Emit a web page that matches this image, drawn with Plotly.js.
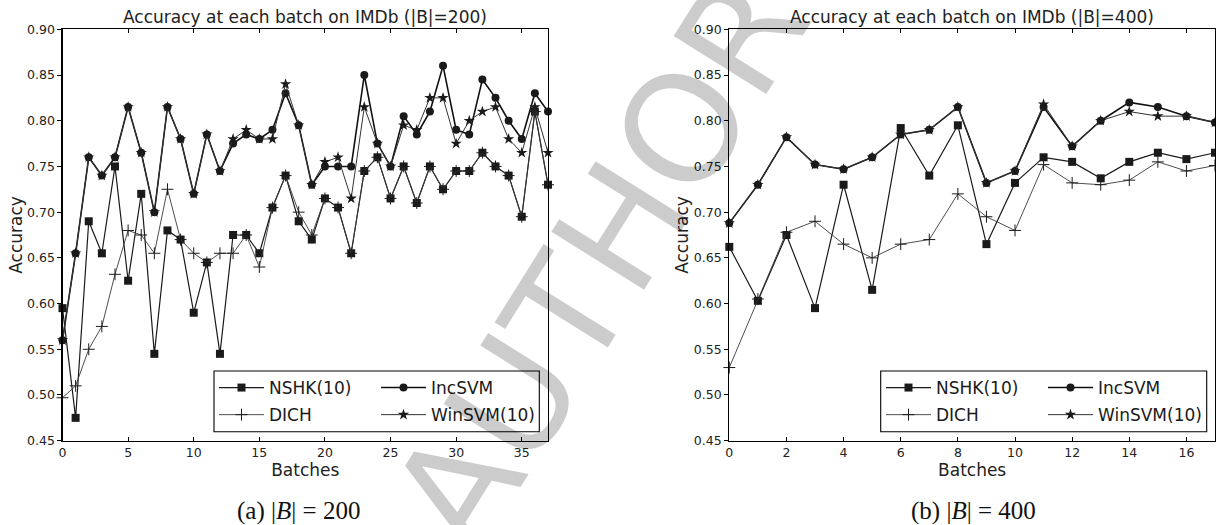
<!DOCTYPE html>
<html>
<head>
<meta charset="utf-8">
<script src="https://cdn.plot.ly/plotly-3.0.1.min.js"></script>
<style>
  html, body { margin: 0; padding: 0; background: #ffffff; }
  #chart { width: 1216px; height: 525px; }
</style>
</head>
<body>
<div id="chart"></div>
<script>
// Accuracy per batch on IMDb, batch size 200
const batches200 = [0,1,2,3,4,5,6,7,8,9,10,11,12,13,14,15,16,17,18,19,20,21,22,23,24,25,26,27,28,29,30,31,32,33,34,35,36,37];
const nshk200 = [0.595,0.475,0.69,0.655,0.75,0.625,0.72,0.545,0.68,0.67,0.59,0.645,0.545,0.675,0.675,0.655,0.705,0.74,0.69,0.67,0.715,0.705,0.655,0.745,0.76,0.715,0.75,0.71,0.75,0.725,0.745,0.745,0.765,0.75,0.74,0.695,0.81,0.73];
const incsvm200 = [0.56,0.655,0.76,0.74,0.76,0.815,0.765,0.70,0.815,0.78,0.72,0.785,0.745,0.775,0.785,0.78,0.79,0.83,0.795,0.73,0.75,0.75,0.75,0.85,0.775,0.75,0.805,0.785,0.81,0.86,0.79,0.785,0.845,0.825,0.80,0.78,0.83,0.81];
const dich200 = [0.497,0.51,0.55,0.575,0.632,0.68,0.675,0.655,0.725,0.67,0.655,0.645,0.655,0.655,0.675,0.64,0.705,0.74,0.70,0.675,0.715,0.705,0.655,0.745,0.76,0.715,0.75,0.71,0.75,0.725,0.745,0.745,0.765,0.75,0.74,0.695,0.81,0.73];
const winsvm200 = [0.56,0.655,0.76,0.74,0.76,0.815,0.765,0.70,0.815,0.78,0.72,0.785,0.745,0.78,0.79,0.78,0.78,0.84,0.795,0.73,0.755,0.76,0.715,0.815,0.775,0.75,0.795,0.79,0.825,0.825,0.775,0.80,0.81,0.815,0.78,0.765,0.815,0.765];

// Accuracy per batch on IMDb, batch size 400
const batches400 = [0,1,2,3,4,5,6,7,8,9,10,11,12,13,14,15,16,17];
const nshk400 = [0.662,0.603,0.675,0.595,0.73,0.615,0.792,0.74,0.795,0.665,0.732,0.76,0.755,0.737,0.755,0.765,0.758,0.765];
const incsvm400 = [0.688,0.73,0.782,0.752,0.747,0.76,0.785,0.79,0.815,0.732,0.745,0.815,0.772,0.80,0.82,0.815,0.805,0.798];
const dich400 = [0.53,0.605,0.678,0.69,0.665,0.65,0.665,0.67,0.72,0.695,0.68,0.752,0.732,0.73,0.735,0.755,0.745,0.751];
const winsvm400 = [0.688,0.73,0.782,0.752,0.747,0.76,0.785,0.79,0.815,0.732,0.745,0.818,0.772,0.80,0.81,0.805,0.805,0.798];

const panelTitles = ['Accuracy at each batch on IMDb (|B|=200)', 'Accuracy at each batch on IMDb (|B|=400)'];
const captions = ['(a) |<i>B</i>| = 200', '(b) |<i>B</i>| = 400'];

const FONT = 'DejaVu Sans, sans-serif';
const SERIF = 'Liberation Serif, Times New Roman, serif';
const INK = '#1a1a1a';

const styles = {
  'NSHK(10)':   { symbol: 'square',     size: 8,   lw: 1.2, lc: '#1a1a1a' },
  'IncSVM':     { symbol: 'circle',     size: 8,   lw: 1.6, lc: '#111111' },
  'DICH':       { symbol: 'cross-thin', size: 8.5, lw: 0.9, lc: '#3a3a3a' },
  'WinSVM(10)': { symbol: 'star',       size: 8.5, lw: 1.0, lc: '#333333' }
};

function makeTrace(name, xs, ys, xa, ya, legendId) {
  const s = styles[name];
  const m = { symbol: s.symbol, size: s.size, color: INK, line: { width: 0, color: INK } };
  if (s.symbol === 'cross-thin') m.line = { width: 1, color: INK };
  return {
    type: 'scatter', mode: 'lines+markers', name: name,
    x: xs, y: ys, xaxis: xa, yaxis: ya,
    line: { color: s.lc, width: s.lw },
    marker: m, cliponaxis: false,
    legend: legendId, legendgroup: name + legendId
  };
}

// legend columns: NSHK/DICH on the left, IncSVM/WinSVM on the right
const traces = [
  makeTrace('NSHK(10)', batches200, nshk200, 'x', 'y', 'legend'),
  makeTrace('IncSVM', batches200, incsvm200, 'x', 'y', 'legend2'),
  makeTrace('DICH', batches200, dich200, 'x', 'y', 'legend'),
  makeTrace('WinSVM(10)', batches200, winsvm200, 'x', 'y', 'legend2'),
  makeTrace('NSHK(10)', batches400, nshk400, 'x2', 'y2', 'legend3'),
  makeTrace('IncSVM', batches400, incsvm400, 'x2', 'y2', 'legend4'),
  makeTrace('DICH', batches400, dich400, 'x2', 'y2', 'legend3'),
  makeTrace('WinSVM(10)', batches400, winsvm400, 'x2', 'y2', 'legend4')
];

const W = 1216, H = 525;
const px = v => v / W;
const py = v => (H - v) / H;

const yDom = [py(440.7), py(29.3)];
const tickFont = { family: FONT, size: 12.5, color: '#222' };
const axisTitleFont = { family: FONT, size: 17, color: '#222' };
const panelTitleFont = { family: FONT, size: 17, color: '#222' };

function xAxis(domain, range, dtick, anchor) {
  return {
    domain: domain, range: range, dtick: dtick, tick0: 0, anchor: anchor,
    showgrid: false, zeroline: false,
    showline: true, linecolor: '#000', linewidth: 1.1, mirror: 'ticks',
    ticks: 'inside', ticklen: 4, tickcolor: '#000', tickwidth: 1,
    tickfont: tickFont,
    title: { text: 'Batches', font: axisTitleFont, standoff: 1 }
  };
}
function yAxis(anchor) {
  return {
    domain: yDom, range: [0.45, 0.90], dtick: 0.05, tick0: 0.45, tickformat: '.2f', anchor: anchor,
    showgrid: false, zeroline: false,
    showline: true, linecolor: '#000', linewidth: 1.1, mirror: true,
    ticks: 'outside', ticklen: 4, tickcolor: '#000', tickwidth: 1,
    tickfont: tickFont,
    title: { text: 'Accuracy', font: axisTitleFont, standoff: 0 }
  };
}
// inner ticks along the right edge of each frame
function yRight(over, anchor) {
  return {
    overlaying: over, anchor: anchor, side: 'right', domain: yDom,
    range: [0.45, 0.90], dtick: 0.05, tick0: 0.45,
    showgrid: false, zeroline: false, showline: false, showticklabels: false,
    ticks: 'inside', ticklen: 4, tickcolor: '#000', tickwidth: 1
  };
}

function legendAt(xPix, yPix) {
  return {
    x: px(xPix), y: py(yPix), xanchor: 'left', yanchor: 'top',
    orientation: 'v', bgcolor: 'rgba(0,0,0,0)', borderwidth: 0,
    font: { family: FONT, size: 17, color: '#1a1a1a' },
    itemwidth: 45,
    tracegroupgap: 2, itemclick: false, itemdoubleclick: false
  };
}

const layout = {
  width: W, height: H,
  margin: { l: 0, r: 0, t: 0, b: 0, autoexpand: false },
  paper_bgcolor: '#ffffff', plot_bgcolor: 'rgba(0,0,0,0)',
  showlegend: true,
  xaxis: xAxis([px(62.5), px(548)], [0, 37], 5, 'y'),
  yaxis: yAxis('x'),
  xaxis2: xAxis([px(729.3), px(1215)], [0, 17], 2, 'y2'),
  yaxis2: yAxis('x2'),
  yaxis3: yRight('y', 'x'),
  yaxis4: yRight('y2', 'x2'),
  legend: legendAt(214, 370),
  legend2: legendAt(376, 370),
  legend3: legendAt(881, 370),
  legend4: legendAt(1043, 370),
  shapes: [
    { type: 'rect', xref: 'paper', yref: 'paper', x0: px(214), x1: px(539.3), y0: py(431.7), y1: py(371),
      line: { color: '#000', width: 1.1 }, fillcolor: 'rgba(0,0,0,0)', layer: 'above' },
    { type: 'rect', xref: 'paper', yref: 'paper', x0: px(880.7), x1: px(1206.7), y0: py(431.7), y1: py(371),
      line: { color: '#000', width: 1.1 }, fillcolor: 'rgba(0,0,0,0)', layer: 'above' }
  ],
  annotations: [
    { text: panelTitles[0], xref: 'paper', yref: 'paper', x: px(305), y: py(17), xanchor: 'center', yanchor: 'middle',
      showarrow: false, font: panelTitleFont },
    { text: panelTitles[1], xref: 'paper', yref: 'paper', x: px(972), y: py(17), xanchor: 'center', yanchor: 'middle',
      showarrow: false, font: panelTitleFont },
    { text: captions[0], xref: 'paper', yref: 'paper', x: px(298.5), y: py(511), xanchor: 'center', yanchor: 'middle',
      showarrow: false, font: { family: SERIF, size: 25, color: '#111' } },
    { text: captions[1], xref: 'paper', yref: 'paper', x: px(973), y: py(511), xanchor: 'center', yanchor: 'middle',
      showarrow: false, font: { family: SERIF, size: 25, color: '#111' } },
    // faint diagonal proof stamp
    { text: 'AUTHOR', xref: 'paper', yref: 'paper', x: px(600), y: py(262), xanchor: 'center', yanchor: 'middle',
      textangle: -58, showarrow: false,
      font: { family: FONT, size: 150, color: 'rgba(0,0,0,0.2)' } }
  ]
};

Plotly.newPlot('chart', traces, layout, { displayModeBar: false, staticPlot: true });
</script>
</body>
</html>
